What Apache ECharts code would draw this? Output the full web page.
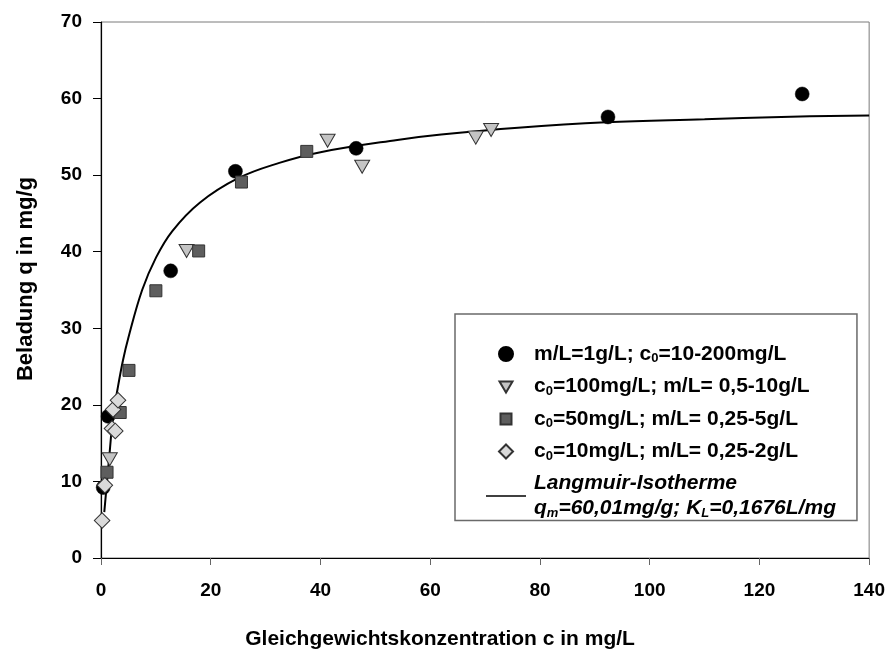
<!DOCTYPE html>
<html>
<head>
<meta charset="utf-8">
<script src="https://cdn.jsdelivr.net/npm/echarts@6/dist/echarts.min.js"></script>
<style>
  html, body { margin: 0; padding: 0; background: #fff; }
  #chart { width: 888px; height: 655px; }
</style>
</head>
<body>
<div id="chart"></div>
<script>
// m/L = 1 g/L; c0 = 10-200 mg/L
var circlePts = [[0.4, 9.2], [1.3, 18.5], [12.7, 37.5], [24.5, 50.5], [46.5, 53.5], [92.4, 57.6], [127.8, 60.6]];
// c0 = 100 mg/L; m/L = 0,5-10 g/L
var trianglePts = [[1.6, 12.9], [15.6, 40.1], [41.3, 54.5], [47.6, 51.1], [68.3, 54.9], [71.1, 55.9]];
// c0 = 50 mg/L; m/L = 0,25-5 g/L
var squarePts = [[1.1, 11.2], [3.5, 19.0], [5.1, 24.5], [10.0, 34.9], [17.8, 40.1], [25.6, 49.1], [37.5, 53.1]];
// c0 = 10 mg/L; m/L = 0,25-2 g/L
var diamondPts = [[0.2, 4.9], [0.7, 9.5], [2.0, 16.9], [2.6, 16.6], [2.2, 19.4], [3.1, 20.6]];
// Langmuir curve
var curveC = [0.6, 1.1, 1.6, 2.2, 3, 4, 5, 7.5, 10, 13, 18, 25, 32.5, 40, 54, 62, 76, 92, 110, 124, 140];
var curveQ = [6.0, 10.0, 14.0, 18.5, 22.0, 25.8, 28.8, 35.0, 39.2, 42.7, 46.4, 49.6, 51.6, 53.0, 54.6, 55.3, 56.2, 56.9, 57.3, 57.6, 57.8];

var xTicks = [0, 20, 40, 60, 80, 100, 120, 140];
var yTicks = [0, 10, 20, 30, 40, 50, 60, 70];

var font = 'Liberation Sans, Arial, sans-serif';

var chart = echarts.init(document.getElementById('chart'));

var option = {
    animation: false,
    backgroundColor: '#fff',
    grid: {
        left: 101, right: 18, top: 22, bottom: 95,
        show: true, borderColor: '#7a7a7a', borderWidth: 1
    },
    xAxis: {
        type: 'value',
        min: xTicks[0], max: xTicks[xTicks.length - 1], interval: 20,
        name: 'Gleichgewichtskonzentration c in mg/L',
        nameLocation: 'middle', nameGap: 71,
        nameTextStyle: { fontFamily: font, fontWeight: 'bold', fontSize: 21, color: '#000', padding: [0, 90, 0, 0] },
        axisLine: { lineStyle: { color: '#000', width: 1.2 } },
        axisTick: { inside: false, length: 7, lineStyle: { color: '#666' } },
        axisLabel: { margin: 23, fontFamily: font, fontWeight: 'bold', fontSize: 19, color: '#000' },
        splitLine: { show: false }
    },
    yAxis: {
        type: 'value',
        min: yTicks[0], max: yTicks[yTicks.length - 1], interval: 10,
        name: 'Beladung q in mg/g',
        nameLocation: 'middle', nameGap: 64,
        nameTextStyle: { fontFamily: font, fontWeight: 'bold', fontSize: 22, color: '#000', padding: [0, 0, 0, 22] },
        axisLine: { lineStyle: { color: '#000', width: 1.2 } },
        axisTick: { inside: false, length: 8, lineStyle: { color: '#000' } },
        axisLabel: { margin: 19, fontFamily: font, fontWeight: 'bold', fontSize: 19, color: '#000' },
        splitLine: { show: false }
    },
    legend: {
        orient: 'vertical',
        left: 455, top: 314,
        padding: [29, 21, 1, 30],
        itemWidth: 40, itemHeight: 14, itemGap: 10.5,
        backgroundColor: '#fff',
        borderColor: '#6a6a6a', borderWidth: 1.5,
        data: [
            { name: 's1', icon: 'circle' },
            { name: 's2', icon: 'path://M0,0M40,14M13.5,2H26.5L20,13Z' },
            { name: 's3', icon: 'path://M0,0M40,14M14.5,1.5H25.5V12.5H14.5Z' },
            { name: 's4', icon: 'path://M0,0M40,14M20,0L27,7L20,14L13,7Z' },
            { name: 'fit', icon: 'path://M0,0M40,14M0,6.2H40V7.8H0Z' }
        ],
        formatter: function (name) {
            if (name === 's1') return '{t|m/L=1g/L; c}{s|0}{t|=10-200mg/L}';
            if (name === 's2') return '{t|c}{s|0}{t|=100mg/L; m/L= 0,5-10g/L}';
            if (name === 's3') return '{t|c}{s|0}{t|=50mg/L; m/L= 0,25-5g/L}';
            if (name === 's4') return '{t|c}{s|0}{t|=10mg/L; m/L= 0,25-2g/L}';
            return '{i|Langmuir-Isotherme}\n{i|q}{is|m}{i|=60,01mg/g; K}{is|L}{i|=0,1676L/mg}';
        },
        textStyle: {
            fontFamily: font, fontWeight: 'bold', fontSize: 21, color: '#000', padding: [0, 0, 0, 3],
            rich: {
                t: { fontFamily: font, fontWeight: 'bold', fontSize: 21, color: '#000', lineHeight: 24 },
                s: { fontFamily: font, fontWeight: 'bold', fontSize: 13, color: '#000', padding: [9, 0, 0, 0], lineHeight: 24 },
                i: { fontFamily: font, fontWeight: 'bold', fontStyle: 'italic', fontSize: 21, color: '#000', lineHeight: 25 },
                is: { fontFamily: font, fontWeight: 'bold', fontStyle: 'italic', fontSize: 13, color: '#000', padding: [9, 0, 0, 0], lineHeight: 25 }
            }
        }
    },
    series: [
        {
            name: 's1', type: 'scatter', data: circlePts,
            symbol: 'circle', symbolSize: 14, z: 3,
            itemStyle: { color: '#000', borderColor: '#000', borderWidth: 0.5, opacity: 1 }
        },
        {
            name: 's2', type: 'scatter', data: trianglePts,
            symbol: 'triangle', symbolRotate: 180, symbolSize: [15, 13], z: 4,
            itemStyle: { color: '#c4c4c4', borderColor: '#333', borderWidth: 1, opacity: 1 }
        },
        {
            name: 's3', type: 'scatter', data: squarePts,
            symbol: 'rect', symbolSize: 12, z: 5,
            itemStyle: { color: '#5e5e5e', borderColor: '#333', borderWidth: 1, opacity: 1 }
        },
        {
            name: 's4', type: 'scatter', data: diamondPts,
            symbol: 'rect', symbolRotate: 45, symbolSize: 11, z: 6,
            itemStyle: { color: '#dadada', borderColor: '#333', borderWidth: 1, opacity: 1 }
        },
        {
            name: 'fit', type: 'line',
            data: curveC.map(function (c, i) { return [c, curveQ[i]]; }),
            smooth: 0.4, showSymbol: false, symbol: 'none', z: 2,
            lineStyle: { color: '#000', width: 2 },
            itemStyle: { color: '#000' }
        }
    ]
};

chart.setOption(option);
</script>
</body>
</html>
